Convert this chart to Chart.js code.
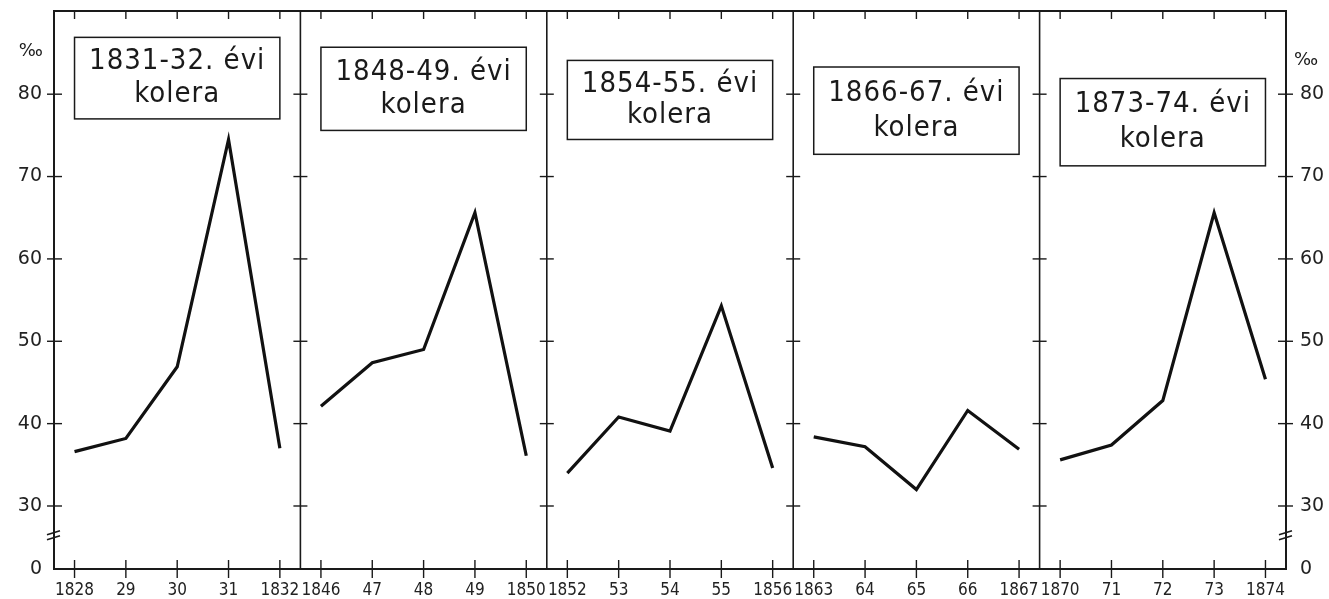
<!DOCTYPE html>
<html>
<head>
<meta charset="utf-8">
<script src="https://cdn.jsdelivr.net/npm/chart.js@4"></script>
<style>
  html, body { margin: 0; padding: 0; background: #fff; }
  #wrap { width: 1329px; height: 599px; }
</style>
</head>
<body>
<div id="wrap"><canvas id="kolera" width="1329" height="599"></canvas></div>
<script>
// years under each panel (short form as printed)
const years1831 = ['1828', '29', '30', '31', '1832']
const years1848 = ['1846', '47', '48', '49', '1850']
const years1854 = ['1852', '53', '54', '55', '1856']
const years1866 = ['1863', '64', '65', '66', '1867']
const years1873 = ['1870', '71', '72', '73', '1874']

// death rate, per mille
const rates1831 = [36.6, 38.2, 46.9, 74.5, 37.0]
const rates1848 = [42.1, 47.4, 49.0, 65.6, 36.1]
const rates1854 = [34.0, 40.8, 39.1, 54.3, 34.6]
const rates1866 = [38.4, 37.2, 32.0, 41.6, 36.9]
const rates1873 = [35.6, 37.4, 42.8, 65.6, 45.4]

const epidemicTitles = [
  ['1831-32. évi', 'kolera'],
  ['1848-49. évi', 'kolera'],
  ['1854-55. évi', 'kolera'],
  ['1866-67. évi', 'kolera'],
  ['1873-74. évi', 'kolera'],
]
const yTickValues = [30, 40, 50, 60, 70, 80]

// layout (scale units)
const PANEL_W = 4.8
const INSET = 0.4
const Y_BOTTOM = 22.35 // drawn as 0, axis is broken below 30
const Y_TOP = 90.1
const boxTops = [86.9, 85.7, 84.1, 83.3, 81.9]
const boxBottoms = [77.0, 75.6, 74.5, 72.7, 71.3]

const allYears = [years1831, years1848, years1854, years1866, years1873]
const allRates = [rates1831, rates1848, rates1854, rates1866, rates1873]
const yearPositions = []
allYears.forEach((ys, p) => ys.forEach((_, i) => yearPositions.push(p * PANEL_W + INSET + i)))
const yearLabels = allYears.flat()

const INK = '#1a1a1a'

function line(ctx, x0, y0, x1, y1) {
  ctx.beginPath()
  ctx.moveTo(x0, y0)
  ctx.lineTo(x1, y1)
  ctx.stroke()
}

const panelFrame = {
  id: 'panelFrame',
  beforeDatasetsDraw(chart) {
    const {
      ctx,
      chartArea: { left, right, top, bottom },
      scales: { x, y },
    } = chart
    ctx.save()
    ctx.strokeStyle = INK
    ctx.lineWidth = 2
    ctx.strokeRect(left, top, right - left, bottom - top)

    ctx.lineWidth = 1.6
    const dividers = []
    for (let p = 1; p < allYears.length; p++) {
      const px = x.getPixelForValue(p * PANEL_W)
      dividers.push(px)
      line(ctx, px, top, px, bottom)
    }

    ctx.lineWidth = 1.4
    yearPositions.forEach((v) => {
      const px = x.getPixelForValue(v)
      line(ctx, px, top, px, top + 8)
      line(ctx, px, bottom - 9, px, bottom + 9)
    })

    yTickValues.forEach((v) => {
      const py = y.getPixelForValue(v)
      line(ctx, left - 7, py, left + 8, py)
      dividers.forEach((dx) => line(ctx, dx - 7, py, dx + 7, py))
      line(ctx, right - 8, py, right + 7, py)
    })
    ctx.restore()
  },
  afterDraw(chart) {
    const {
      ctx,
      chartArea: { left, right },
      scales: { x, y },
    } = chart
    ctx.save()
    // title boxes
    epidemicTitles.forEach((lines, p) => {
      const x0 = x.getPixelForValue(p * PANEL_W + INSET)
      const x1 = x.getPixelForValue(p * PANEL_W + INSET + 4)
      const y0 = y.getPixelForValue(boxTops[p])
      const y1 = y.getPixelForValue(boxBottoms[p])
      ctx.fillStyle = '#fff'
      ctx.fillRect(x0, y0, x1 - x0, y1 - y0)
      ctx.strokeStyle = INK
      ctx.lineWidth = 1.5
      ctx.strokeRect(x0, y0, x1 - x0, y1 - y0)
      ctx.fillStyle = INK
      ctx.font = '29px "DejaVu Sans Condensed", "DejaVu Sans", sans-serif'
      ctx.letterSpacing = '1px'
      ctx.textAlign = 'center'
      ctx.textBaseline = 'middle'
      const cx = (x0 + x1) / 2
      ctx.fillText(lines[0], cx, y0 + (y1 - y0) * 0.3)
      ctx.fillText(lines[1], cx, y0 + (y1 - y0) * 0.7)
      ctx.letterSpacing = '0px'
    })

    // unit
    ctx.font = '18px "DejaVu Sans", sans-serif'
    ctx.textBaseline = 'middle'
    ctx.textAlign = 'right'
    ctx.fillText('‰', left - 11, y.getPixelForValue(85.2))
    ctx.textAlign = 'left'
    ctx.fillText('‰', right + 8, y.getPixelForValue(84.1))

    // axis break marks
    ctx.lineWidth = 1.5
    const by = y.getPixelForValue(26.5)
    ;[left, right].forEach((ax) => {
      line(ctx, ax - 7, by, ax + 6, by - 4)
      line(ctx, ax - 7, by + 5, ax + 6, by + 1)
    })
    ctx.restore()
  },
}

const ctx = document.getElementById('kolera').getContext('2d')

const datasets = allRates.map((rates, p) => ({
  data: rates.map((r, i) => ({ x: p * PANEL_W + INSET + i, y: r })),
  borderColor: '#111',
  borderWidth: 3.2,
  borderJoinStyle: 'miter',
  pointRadius: 0,
  tension: 0,
  yAxisID: 'y',
}))

const yAxis = (position, padding) => ({
  type: 'linear',
  position,
  min: Y_BOTTOM,
  max: Y_TOP,
  afterBuildTicks: (scale) => {
    scale.ticks = [Y_BOTTOM, ...yTickValues].map((v) => ({ value: v }))
  },
  afterFit: (scale) => {
    scale.width = position === 'left' ? 54 : 43
    scale.paddingTop = 0
    scale.paddingBottom = 0
  },
  grid: { display: false, drawTicks: false },
  border: { display: false },
  ticks: {
    padding,
    color: '#222',
    font: { family: '"DejaVu Sans", sans-serif', size: 19 },
    callback: (value) => (value === Y_BOTTOM ? '0' : value),
  },
})

// eslint-disable-next-line no-unused-vars
const choleraChart = new Chart(ctx, {
  type: 'line',
  data: { datasets },
  options: {
    responsive: false,
    animation: false,
    layout: { padding: { top: 11, left: 0, right: 0, bottom: 0 } },
    scales: {
      x: {
        type: 'linear',
        min: 0,
        max: PANEL_W * allYears.length,
        afterBuildTicks: (scale) => {
          scale.ticks = yearPositions.map((v) => ({ value: v }))
        },
        afterFit: (scale) => {
          scale.height = 30
          scale.paddingLeft = 0
          scale.paddingRight = 0
        },
        grid: { display: false, drawTicks: false },
        border: { display: false },
        ticks: {
          autoSkip: false,
          maxRotation: 0,
          padding: 11,
          color: '#222',
          font: {
            family: '"DejaVu Sans Condensed", "Liberation Sans Narrow", sans-serif',
            size: 17,
          },
          callback: (value, index) => yearLabels[index],
        },
      },
      y: yAxis('left', 12),
      y2: yAxis('right', 14),
    },
    plugins: {
      legend: false,
      tooltip: false,
    },
  },
  plugins: [panelFrame],
})
</script>
</body>
</html>
